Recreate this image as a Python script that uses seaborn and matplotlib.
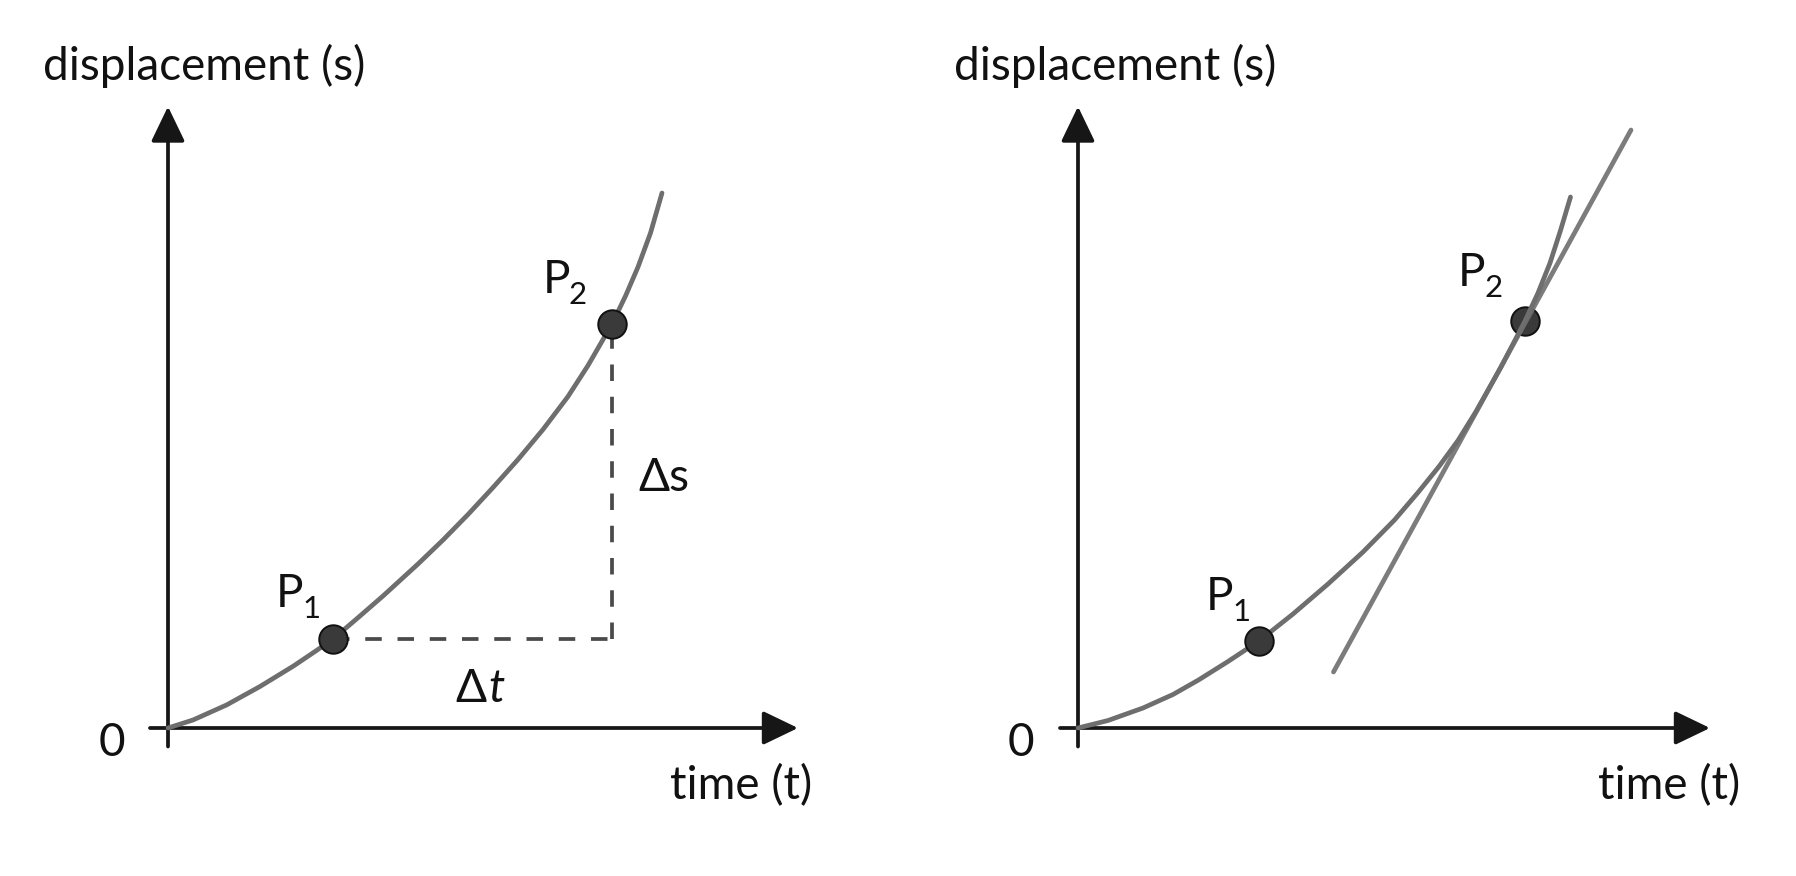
import matplotlib
matplotlib.use("Agg")
import matplotlib.pyplot as plt
import seaborn as sns

# ── Data (schematic units: 1 unit = 50 px) ───────────────────────────────────
left_t = [0, 0.5, 1.17, 1.84, 2.51, 2.97, 3.3, 3.77, 4.3, 5.0, 5.5, 6.0, 6.5,
          7.0, 7.5, 8.0, 8.4, 8.88, 9.15, 9.4, 9.65, 9.88]
left_s = [0, 0.16, 0.46, 0.83, 1.24, 1.55, 1.78, 2.18, 2.64, 3.28, 3.76, 4.27,
          4.81, 5.37, 5.97, 6.63, 7.25, 8.08, 8.64, 9.22, 9.90, 10.70]

right_t = [0, 0.6, 1.3, 1.9, 2.41, 3.0, 3.62, 4.3, 5.0, 5.7, 6.33, 6.8, 7.22,
           7.6, 7.96, 8.45, 8.93, 9.2, 9.44, 9.65, 9.85]
right_s = [0, 0.15, 0.40, 0.67, 0.96, 1.33, 1.74, 2.28, 2.88, 3.52, 4.16, 4.71,
           5.23, 5.75, 6.33, 7.20, 8.12, 8.70, 9.30, 9.95, 10.62]

left_p1 = (3.30, 1.78)
left_p2 = (8.88, 8.08)
right_p1 = (3.62, 1.74)
right_p2 = (8.93, 8.14)

tangent_t = [5.11, 11.06]
tangent_s = [1.12, 11.96]

Y_LABEL = "displacement (s)"
X_LABEL = "time (t)"

# ── Style ────────────────────────────────────────────────────────────────────
sns.set_theme(style="white")
plt.rcParams["font.family"] = ["Lato", "DejaVu Sans"]

AXIS_C = "#161616"
CURVE_C = "#6e6e6e"
DOT_C = "#3a3a3a"
DASH_C = "#4a4a4a"
FS = 33

fig = plt.figure(figsize=(17.96, 8.76), dpi=100)
W, H = 1796, 876


def make_ax(x0_px, origin_x_px):
    ax = fig.add_axes([x0_px / W, 0, 898 / W, 1])
    ax.set_xlim((x0_px - origin_x_px) / 50, (x0_px + 898 - origin_x_px) / 50)
    ax.set_ylim((728 - H) / 50, 728 / 50)
    ax.axis("off")
    return ax


def draw_axes(ax, x_tip, y_tip):
    kw = dict(arrowstyle="-|>,head_length=1.08,head_width=0.52",
              mutation_scale=20, lw=2.7, color=AXIS_C,
              shrinkA=0, shrinkB=0)
    ax.annotate("", xy=(0, y_tip), xytext=(0, -0.37), arrowprops=kw)
    ax.annotate("", xy=(x_tip, 0), xytext=(-0.36, 0), arrowprops=kw)


def p_label(ax, x, y, sub):
    ax.text(x, y, "P", fontsize=FS, color="#111", va="baseline", ha="left")
    ax.text(x + 0.52, y - 0.22, sub, fontsize=FS * 0.68, color="#111",
            va="baseline", ha="left")


def dot(ax, pt, z):
    ax.plot(pt[0], pt[1], "o", ms=20.5, mfc=DOT_C, mec="#111", mew=1.4, zorder=z)


# ── Left panel: secant construction ──────────────────────────────────────────
ax1 = make_ax(0, 168)
draw_axes(ax1, 12.6, 12.43)
sns.lineplot(x=left_t, y=left_s, ax=ax1, color=CURVE_C, lw=3.4, zorder=3)

ax1.plot([left_p1[0], left_p2[0]], [left_p1[1], left_p1[1]],
         color=DASH_C, lw=2.7, linestyle=(0, (4.4, 4.2)), zorder=2)
ax1.plot([left_p2[0], left_p2[0]], [left_p1[1], left_p2[1]],
         color=DASH_C, lw=2.7, linestyle=(0, (4.4, 4.2)), zorder=2)
dot(ax1, left_p1, 5)
dot(ax1, left_p2, 5)

p_label(ax1, 2.16, 2.42, "1")
p_label(ax1, 7.50, 8.70, "2")
ax1.text(9.40, 4.74, "Δs", fontsize=FS, color="#111", va="baseline")
ax1.text(5.74, 0.52, "Δ", fontsize=FS, color="#111", va="baseline")
ax1.text(6.40, 0.52, "t", fontsize=FS, color="#111", va="baseline",
         style="italic")

ax1.text(-2.50, 12.96, Y_LABEL, fontsize=FS, color="#111", va="baseline")
ax1.text(10.04, -1.42, X_LABEL, fontsize=FS, color="#111", va="baseline")
ax1.text(-1.12, -0.30, "0", fontsize=FS, color="#111", va="center", ha="center")

# ── Right panel: tangent construction ────────────────────────────────────────
ax2 = make_ax(898, 1078)
draw_axes(ax2, 12.64, 12.43)
dot(ax2, right_p2, 2)
sns.lineplot(x=right_t, y=right_s, ax=ax2, color=CURVE_C, lw=3.4, zorder=3)
sns.lineplot(x=tangent_t, y=tangent_s, ax=ax2, color=CURVE_C, lw=3.4,
             alpha=0.9, zorder=3)
dot(ax2, right_p1, 5)

p_label(ax2, 2.56, 2.36, "1")
p_label(ax2, 7.60, 8.84, "2")

ax2.text(-2.48, 12.96, Y_LABEL, fontsize=FS, color="#111", va="baseline")
ax2.text(10.40, -1.42, X_LABEL, fontsize=FS, color="#111", va="baseline")
ax2.text(-1.14, -0.30, "0", fontsize=FS, color="#111", va="center", ha="center")

fig.savefig("out.png", dpi=100, facecolor="white")
